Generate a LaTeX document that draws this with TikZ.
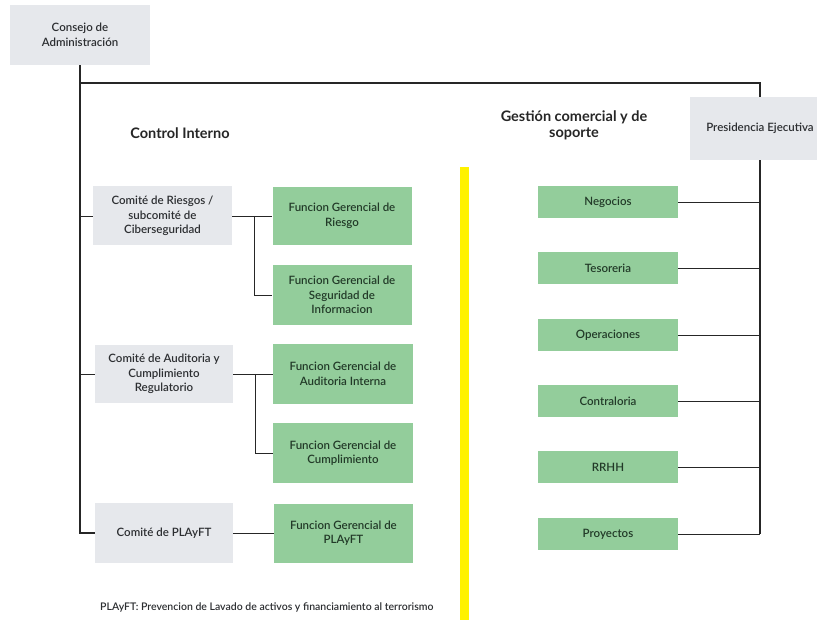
\documentclass[tikz,border=0pt]{standalone}
\usepackage{fontspec}
\setmainfont{Lato}
\newfontfamily\semib{Lato Semibold}
\definecolor{boxgrey}{HTML}{E6E8EC}
\definecolor{boxgreen}{HTML}{93CD9B}
\definecolor{txtgreen}{HTML}{223A28}
\definecolor{txtgrey}{HTML}{2C2E31}
\definecolor{baryellow}{HTML}{FFF200}
\begin{document}
\begin{tikzpicture}[x=1pt,y=-1pt,
  greybox/.style={fill=boxgrey,draw=none,align=center,inner sep=0pt,text=txtgrey,font=\semib\fontsize{11.5}{14.5}\selectfont},
  greenbox/.style={fill=boxgreen,draw=none,align=center,inner sep=0pt,text=txtgreen,font=\semib\fontsize{11.5}{14.5}\selectfont},
  conn/.style={draw=black!85,line width=0.8pt},
  trunk/.style={draw=black!85,line width=1.1pt},
  heading/.style={font=\bfseries\fontsize{14.5}{16}\selectfont,text=black!85,align=center}]
\useasboundingbox (0,0) rectangle (817,620);
\fill[baryellow] (460,167) rectangle (469,620);
\node[greybox,minimum width=140pt,minimum height=60pt] (consejo) at (80,35) {Consejo de\\Administración};
\node[greybox,minimum width=140pt,minimum height=63pt] (pres) at (760,128.5) {Presidencia Ejecutiva};
\node[heading] (ci) at (180,133) {Control Interno};
\node[heading] (gc) at (574,125) {Gestión comercial y de\\soporte};
\node[greybox,minimum width=139pt,minimum height=59pt] (crisk) at (162.5,216) {Comité de Riesgos /\\subcomité de\\Ciberseguridad};
\node[greybox,minimum width=138pt,minimum height=58pt] (caud) at (164,374) {Comité de Auditoria y\\Cumplimiento\\Regulatorio};
\node[greybox,minimum width=138pt,minimum height=60pt] (cpl) at (164,533) {Comité de PLAyFT};
\node[greenbox,minimum width=139pt,minimum height=58pt] (grisk) at (342,216) {Funcion Gerencial de\\Riesgo};
\node[greenbox,minimum width=139pt,minimum height=60pt] (gseg) at (342,295) {Funcion Gerencial de\\Seguridad de\\Informacion};
\node[greenbox,minimum width=140pt,minimum height=60pt] (gaud) at (343,374) {Funcion Gerencial de\\Auditoria Interna};
\node[greenbox,minimum width=140pt,minimum height=60pt] (gcum) at (343,453) {Funcion Gerencial de\\Cumplimiento};
\node[greenbox,minimum width=139pt,minimum height=59pt] (gpl) at (343.5,533) {Funcion Gerencial de\\PLAyFT};
\node[greenbox,minimum width=140pt,minimum height=32pt] (neg) at (608,202) {Negocios};
\node[greenbox,minimum width=140pt,minimum height=32pt] (tes) at (608,268) {Tesoreria};
\node[greenbox,minimum width=140pt,minimum height=32pt] (ope) at (608,335) {Operaciones};
\node[greenbox,minimum width=140pt,minimum height=32pt] (con) at (608,401) {Contraloria};
\node[greenbox,minimum width=140pt,minimum height=32pt] (rrhh) at (608,467) {RRHH};
\node[greenbox,minimum width=140pt,minimum height=32pt] (pro) at (608,534) {Proyectos};
\node[anchor=west,inner sep=0pt,font=\semib\fontsize{10.5}{12}\selectfont,text=txtgrey] (fn) at (100,607) {PLAyFT: Prevencion de Lavado de activos y financiamiento al terrorismo};
\coordinate (topL) at (80,83);
\coordinate (topR) at (760,83);
\coordinate (tR) at (80,216);
\coordinate (tA) at (80,374);
\coordinate (tP) at (80,533);
\coordinate (bR) at (254,216);
\coordinate (bA) at (255,374);
\coordinate (rEnd) at (760,534);
\draw[trunk] (consejo.south) -- (tP) -- (cpl.west);
\draw[trunk] (topL) -- (topR) -- (pres.north);
\draw[trunk] (pres.south) -- (rEnd);
\draw[conn] (tR) -- (crisk.west);
\draw[conn] (tA) -- (caud.west);
\draw[conn] (crisk.east) -- (grisk.west);
\draw[conn] (bR) |- (gseg.west);
\draw[conn] (caud.east) -- (gaud.west);
\draw[conn] (bA) |- (gcum.west);
\draw[conn] (cpl.east) -- (gpl.west);
\foreach \n in {neg,tes,ope,con,rrhh,pro}{
  \draw[conn] (\n.east) -- (\n.east -| topR);
}
\end{tikzpicture}
\end{document}
